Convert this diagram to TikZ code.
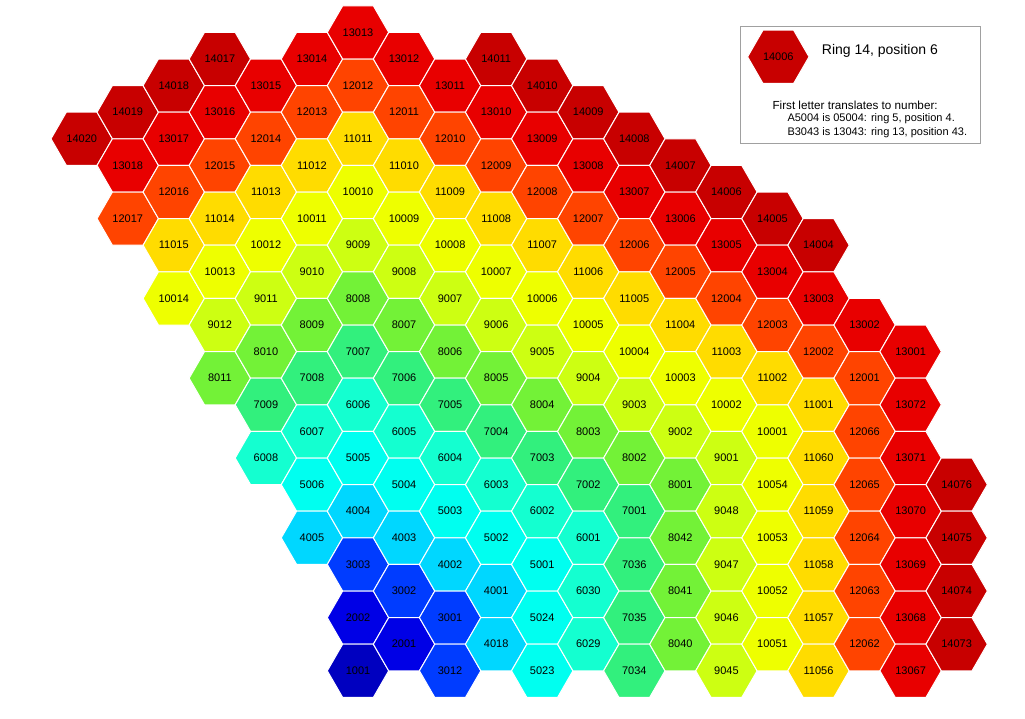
\documentclass[tikz,border=0pt]{standalone}
\usepackage{fontspec}
\setmainfont{Liberation Sans}
\definecolor{ring1}{RGB}{0,0,192}
\definecolor{ring2}{RGB}{0,0,230}
\definecolor{ring3}{RGB}{0,60,255}
\definecolor{ring4}{RGB}{0,215,255}
\definecolor{ring5}{RGB}{0,255,240}
\definecolor{ring6}{RGB}{20,255,208}
\definecolor{ring7}{RGB}{50,240,125}
\definecolor{ring8}{RGB}{115,242,55}
\definecolor{ring9}{RGB}{205,255,18}
\definecolor{ring10}{RGB}{238,255,0}
\definecolor{ring11}{RGB}{255,220,0}
\definecolor{ring12}{RGB}{255,68,0}
\definecolor{ring13}{RGB}{232,0,0}
\definecolor{ring14}{RGB}{200,0,0}
\definecolor{legendframe}{RGB}{160,160,160}
\tikzset{
  hexcell/.style={draw=white, line width=1pt, line join=miter},
  hexlabel/.style={inner sep=0pt, font=\fontsize{11}{13}\selectfont, text=black},
  legendtitle/.style={inner sep=0pt, anchor=west, font=\fontsize{14}{16}\selectfont},
  legendtext/.style={inner sep=0pt, anchor=west, font=\fontsize{11.7}{13}\selectfont},
  legendsmall/.style={inner sep=0pt, anchor=west, font=\fontsize{11}{13}\selectfont},
  legendbox/.style={draw=legendframe, line width=1pt, fill=white}
}
\begin{document}
\begin{tikzpicture}[x=1pt,y=-1pt]
\useasboundingbox[fill=white] (0,0) rectangle (1025,718);
\foreach \c in {0,...,19}{
  \foreach \r in {0,...,24}{
    \ifodd\numexpr\c+\r\relax\else
      \edef\hadc{\the\numexpr\ifnum\c<6 6-\c\else\c-6\fi\relax}%
      \edef\hadr{\the\numexpr24-\r\relax}%
      \ifnum\hadr<\hadc\relax
        \edef\hd{\hadc}%
      \else
        \edef\hd{\the\numexpr(\hadc+\hadr)/2\relax}%
      \fi
      \ifnum\c<6\relax
        \edef\hpos{\the\numexpr\hd+1+\hadc\relax}%
        \ifnum\numexpr2*\hadc\relax<\hd\relax \def\hshow{1}\else\def\hshow{0}\fi
      \else
        \def\hshow{1}%
        \ifnum\hadr<\hadc\relax
          \edef\hpos{\the\numexpr5*\hd+1+(\hd+\hadr)/2\relax}%
        \else
          \edef\hpos{\the\numexpr1+\hd-\hadc\relax}%
        \fi
      \fi
      \ifnum\hd>13\relax \def\hshow{0}\fi
      \ifnum\hd=13\relax
        \def\hshow{0}%
        \ifnum\hpos>3\relax \ifnum\hpos<12\relax \def\hshow{1}\fi\fi
        \ifnum\hpos>16\relax \ifnum\hpos<21\relax \def\hshow{1}\fi\fi
        \ifnum\hpos>72\relax \ifnum\hpos<77\relax \def\hshow{1}\fi\fi
      \fi
      \ifnum\hshow=1\relax
        \edef\hring{\the\numexpr\hd+1\relax}%
        \edef\hlab{\the\numexpr\hring*1000+\hpos\relax}%
        \coordinate (h\c-\r) at ({81.7+46.05*\c},{32.4+26.6*\r});
        \path[hexcell, fill=ring\hring] (h\c-\r) ++(-30.7,0) -- ++(15.35,26.6) -- ++(30.7,0) -- ++(15.35,-26.6) -- ++(-15.35,-26.6) -- ++(-30.7,0) -- cycle;
        \node[hexlabel] (l\c-\r) at (h\c-\r) {\hlab};
      \fi
    \fi
  }
}
% legend
\path[legendbox] (740,26) rectangle (980.5,143.3);
\coordinate (leghex) at (778.3,56.8);
\path[hexcell, fill=ring14] (leghex) ++(-30.7,0) -- ++(15.35,26.6) -- ++(30.7,0) -- ++(15.35,-26.6) -- ++(-15.35,-26.6) -- ++(-30.7,0) -- cycle;
\node[hexlabel] (leglab) at (leghex) {14006};
\node[legendtitle] (legtitle) at (821.7,51) {Ring 14, position 6};
\node[legendtext] (legl1) at (772.3,105) {First letter translates to number:};
\node[legendsmall] (legl2) at (787.3,119) {A5004 is 05004: ring 5, position 4.};
\node[legendsmall] (legl3) at (787.3,132.5) {B3043 is 13043: ring 13, position 43.};
\end{tikzpicture}
\end{document}
